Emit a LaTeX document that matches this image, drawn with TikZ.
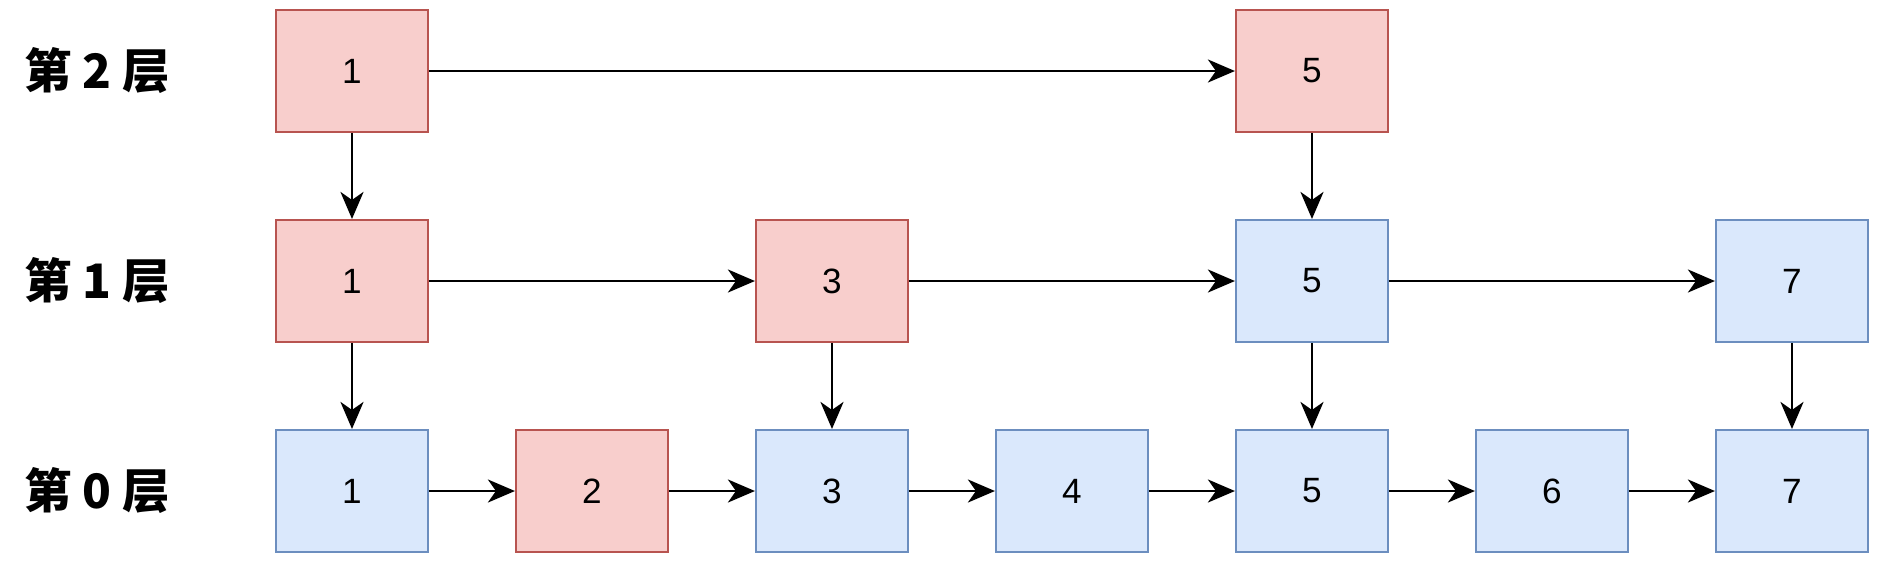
\documentclass[tikz,border=0pt]{standalone}
\usepackage{fontspec}
\setsansfont{Liberation Sans}
\newfontfamily\cjk{Noto Sans CJK SC}
\usetikzlibrary{arrows.meta,positioning}
\definecolor{redfill}{HTML}{F8CECC}
\definecolor{redline}{HTML}{B85450}
\definecolor{bluefill}{HTML}{DAE8FC}
\definecolor{blueline}{HTML}{6C8EBF}
\tikzset{box/.style={draw,minimum width=1.52cm,minimum height=1.22cm,inner sep=0pt,line width=0.6pt,font=\sffamily\fontsize{10}{12}\selectfont},
  redbox/.style={box,fill=redfill,draw=redline},
  bluebox/.style={box,fill=bluefill,draw=blueline},
  level/.style={font=\cjk\bfseries\fontsize{13.5}{16}\selectfont},
  arr/.style={-{Stealth[length=2.7mm,width=2.3mm,inset=0.8mm]},line width=0.8pt}}

\begin{document}
\begin{tikzpicture}
\useasboundingbox (0,0) rectangle (19.01,-5.62);
% level labels
\node[level] (l2) at (0.97,-0.71){第 2 层};
\node[level] (l1) at (0.97,-2.81){第 1 层};
\node[level] (l0) at (0.97,-4.91){第 0 层};
% level 2
\node[redbox] (a1) at (3.52,-0.71){1};
\node[redbox] (a5) at (13.12,-0.71){5};
% level 1
\node[redbox] (b1) at (3.52,-2.81){1};
\node[redbox] (b3) at (8.32,-2.81){3};
\node[bluebox] (b5) at (13.12,-2.81){5};
\node[bluebox] (b7) at (17.92,-2.81){7};
% level 0
\node[bluebox] (c1) at (3.52,-4.91){1};
\node[redbox] (c2) at (5.92,-4.91){2};
\node[bluebox] (c3) at (8.32,-4.91){3};
\node[bluebox] (c4) at (10.72,-4.91){4};
\node[bluebox] (c5) at (13.12,-4.91){5};
\node[bluebox] (c6) at (15.52,-4.91){6};
\node[bluebox] (c7) at (17.92,-4.91){7};
% horizontal links
\draw[arr] (a1)--(a5);
\draw[arr] (b1)--(b3); \draw[arr] (b3)--(b5); \draw[arr] (b5)--(b7);
\draw[arr] (c1)--(c2); \draw[arr] (c2)--(c3); \draw[arr] (c3)--(c4);
\draw[arr] (c4)--(c5); \draw[arr] (c5)--(c6); \draw[arr] (c6)--(c7);
% down links
\draw[arr] (a1)--(b1); \draw[arr] (a5)--(b5);
\draw[arr] (b1)--(c1); \draw[arr] (b3)--(c3);
\draw[arr] (b5)--(c5); \draw[arr] (b7)--(c7);
\end{tikzpicture}
\end{document}
